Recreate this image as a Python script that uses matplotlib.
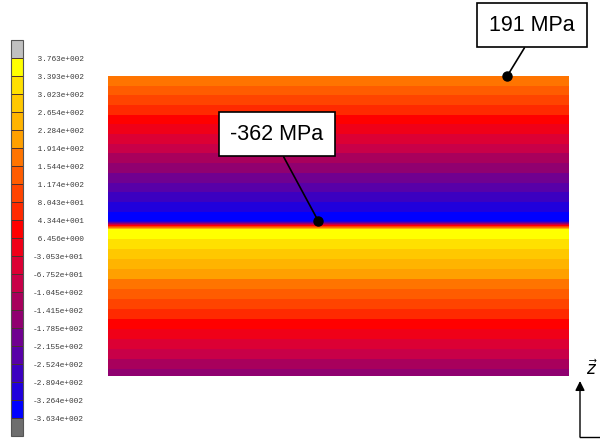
import numpy as np
import matplotlib
matplotlib.use("Agg")
import matplotlib.pyplot as plt
from matplotlib.colors import ListedColormap, BoundaryNorm


# Contour levels shown on the legend (MPa), high to low
levels = [376.3, 339.3, 302.3, 265.4, 228.4, 191.4, 154.4, 117.4, 80.43, 43.44,
          6.456, -30.53, -67.52, -104.5, -141.5, -178.5, -215.5, -252.4, -289.4,
          -326.4, -363.4]

# Fill colour for each interval, high to low
band_colors = ["#ffff00", "#ffe000", "#ffc800", "#ffb400", "#ffa000", "#ff7400",
               "#ff5c00", "#ff4400", "#ff2a00", "#ff0000", "#f00018", "#dc0034",
               "#c80048", "#a8005c", "#900070", "#700090", "#5800a8", "#3c00c0",
               "#2000dc", "#0000ff"]
over_color = "#c0c0c0"
under_color = "#6e6e6e"

# Stress through the plate thickness (0 = bottom face, 1 = top face)
thickness_pos = [0.0, 0.487, 0.517, 1.0]
stress_mpa = [-168.0, 372.0, -362.0, 191.0]

# Points called out on the plot: position along the plate
callout_min_x = 0.456
callout_top_x = 0.866

lv = np.array(levels[::-1])
cmap = ListedColormap(band_colors[::-1])
cmap.set_over(over_color)
cmap.set_under(under_color)
norm = BoundaryNorm(lv, cmap.N)

fig = plt.figure(figsize=(6.0, 4.4), dpi=100)
fig.patch.set_facecolor("white")

# plate section
ax = fig.add_axes([108 / 600, 64 / 440, 461 / 600, 300 / 440])
z = np.linspace(0, 1, 1500)
s = np.interp(z, thickness_pos, stress_mpa)
xx = np.array([0.0, 1.0])
S = np.tile(s[:, None], (1, 2))
cs = ax.contourf(xx, z, S, levels=lv, cmap=cmap, norm=norm, extend="both")
ax.set_xlim(0, 1)
ax.set_ylim(0, 1)
ax.axis("off")

# legend bar
cax = fig.add_axes([11 / 600, 4 / 440, 12 / 600, 396 / 440])
cb = fig.colorbar(cs, cax=cax, ticks=lv, drawedges=True, extendrect=True,
                  extendfrac=0.05)
cb.outline.set_edgecolor("#555555")
cb.outline.set_linewidth(0.8)
cb.dividers.set_color("#4a3030")
cb.dividers.set_linewidth(0.7)


def sci_label(v):
    e = int(np.floor(np.log10(abs(v))))
    m = v / 10 ** e
    sign = "+" if e >= 0 else "-"
    lead = " " if v >= 0 else ""
    return f"{lead}{m:.3f}e{sign}{abs(e):03d}"


cb.ax.set_yticklabels([sci_label(v) for v in lv])
cb.ax.tick_params(length=0, pad=7, labelsize=5.6, labelcolor="#3a3a3a")
for t in cb.ax.get_yticklabels():
    t.set_family("Liberation Mono")

# call-outs
i_min = int(np.argmin(stress_mpa))
i_top = len(stress_mpa) - 1
box = dict(boxstyle="square,pad=0.55", fc="white", ec="black", lw=1.2)
arrow = dict(arrowstyle="-", color="black", lw=1.2, relpos=(0.5, 0.0),
             shrinkA=0, shrinkB=0)
for px, idx, txt_xy in [(callout_min_x, i_min, (277, 306)),
                        (callout_top_x, i_top, (532, 415))]:
    pz = thickness_pos[idx]
    ax.annotate(f"{stress_mpa[idx]:.0f} MPa", xy=(px, pz), xycoords="data",
                xytext=txt_xy, textcoords="figure pixels", ha="center",
                va="center", fontsize=15.5, family="Liberation Sans",
                bbox=box, arrowprops=arrow, annotation_clip=False, zorder=5)
    ax.plot(px, pz, "o", color="black", ms=6.5, clip_on=False, zorder=6)

# coordinate triad
ov = fig.add_axes([0, 0, 1, 1], zorder=10)
ov.set_xlim(0, 600)
ov.set_ylim(440, 0)
ov.axis("off")
ov.annotate("", xy=(580, 381), xytext=(580, 437),
            arrowprops=dict(arrowstyle="-|>", color="black", lw=1.0,
                            mutation_scale=14, shrinkA=0, shrinkB=0))
ov.plot([580, 600], [437, 437], color="black", lw=1.0)
ov.text(586, 375, r"$\vec{z}$", fontsize=12, ha="left", va="baseline")

fig.savefig("out.png", dpi=100, facecolor="white")
